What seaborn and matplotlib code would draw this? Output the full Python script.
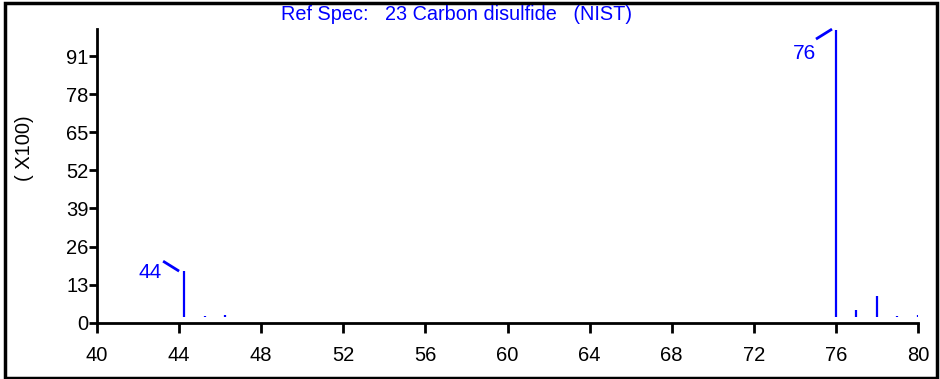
import matplotlib
matplotlib.use("Agg")
import matplotlib.pyplot as plt
from matplotlib.patches import Rectangle
import seaborn as sns
import pandas as pd

# ---- data ----
mz = [44.25, 45.25, 46.25, 76.0, 77.0, 78.0, 79.0, 80.0]
intensity = [17.5, 2.3, 2.6, 100.0, 4.4, 9.2, 2.3, 2.6]
label_mz = [44, 76]
label_text = ["44", "76"]
yticks = [0, 13, 26, 39, 52, 65, 78, 91]
xticks = [40, 44, 48, 52, 56, 60, 64, 68, 72, 76, 80]
title = "Ref Spec:   23 Carbon disulfide   (NIST)"
ylabel = "( X100)"

df = pd.DataFrame({"mz": mz, "intensity": intensity})

sns.set_theme(style="ticks")
plt.rcParams["font.family"] = ["Liberation Sans", "DejaVu Sans"]

BLUE = "#0000ff"
BASE = 1.8  # gap between stick foot and axis line

fig = plt.figure(figsize=(9.4, 3.79), dpi=100)
ax = fig.add_axes([0.1032, 0.1485, 0.8734, 0.7747])

ax.vlines(df["mz"], BASE, df["intensity"], color=BLUE, linewidth=1.6)

# peak labels with leader lines
lab = {
    44: dict(text=(42.58, 17.0), line=((43.22, 21.0), (44.0, 17.6))),
    76: dict(text=(74.45, 92.0), line=((75.03, 96.8), (75.81, 100.2))),
}
for m, t in zip(label_mz, label_text):
    d = lab[m]
    ax.text(*d["text"], t, color=BLUE, fontsize=15, ha="center", va="center")
    (x0, y0), (x1, y1) = d["line"]
    ax.plot([x0, x1], [y0, y1], color=BLUE, linewidth=2, solid_capstyle="butt",
            clip_on=False)

ax.set_xlim(40, 80)
ax.set_ylim(0, 100.2)
ax.set_xticks(xticks)
ax.set_yticks(yticks)
ax.tick_params(axis="x", direction="out", length=7, width=2, labelsize=14.5,
               pad=10, color="black", labelcolor="black")
ax.tick_params(axis="y", direction="out", length=6, width=2, labelsize=14.5,
               pad=0, color="black", labelcolor="black")
for s in ["left", "bottom"]:
    ax.spines[s].set_linewidth(2)
    ax.spines[s].set_color("black")
sns.despine(ax=ax)
ax.set_facecolor("white")
ax.set_xlabel("")
ax.set_ylabel("")

fig.text(457 / 940, 1 - 15 / 379, title, color=BLUE, fontsize=14.3,
         ha="center", va="center")
fig.text(24 / 940, 1 - 148 / 379, ylabel, color="black", fontsize=14.5,
         ha="center", va="center", rotation=90)

fig.patches.append(Rectangle((4.5 / 940, 1.5 / 379), 932 / 940, 375 / 379,
                             transform=fig.transFigure, fill=False,
                             edgecolor="black", linewidth=2.5))

fig.savefig("out.png", dpi=100, facecolor="white")
